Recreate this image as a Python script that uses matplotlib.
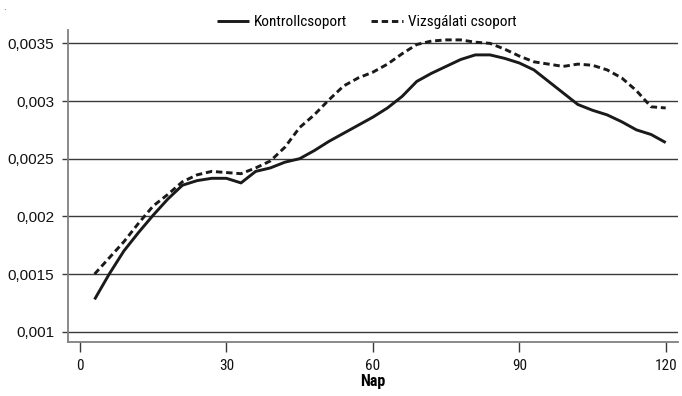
import matplotlib
matplotlib.use("Agg")
import matplotlib.pyplot as plt
from matplotlib import font_manager as fm
from matplotlib.ticker import FuncFormatter

days = [3, 6, 9, 12, 15, 18, 21, 24, 27, 30, 33, 36, 39, 42, 45, 48, 51, 54, 57, 60,
        63, 66, 69, 72, 75, 78, 81, 84, 87, 90, 93, 96, 99, 102, 105, 108, 111, 114, 117, 120]
kontroll = [0.00128, 0.00150, 0.00170, 0.00186, 0.00201, 0.00215, 0.00227, 0.00231, 0.00233, 0.00233,
            0.00229, 0.00239, 0.00242, 0.00247, 0.00250, 0.00257, 0.00265, 0.00272, 0.00279, 0.00286,
            0.00294, 0.00304, 0.00317, 0.00324, 0.00330, 0.00336, 0.00340, 0.00340, 0.00337, 0.00333,
            0.00327, 0.00317, 0.00307, 0.00297, 0.00292, 0.00288, 0.00282, 0.00275, 0.00271, 0.00264]
vizsgalati = [0.00150, 0.00164, 0.00178, 0.00194, 0.00209, 0.00219, 0.00230, 0.00236, 0.00239, 0.00238,
              0.00237, 0.00242, 0.00248, 0.00260, 0.00277, 0.00288, 0.00301, 0.00313, 0.00320, 0.00325,
              0.00332, 0.00341, 0.00349, 0.00352, 0.00353, 0.00353, 0.00351, 0.00350, 0.00345, 0.00339,
              0.00334, 0.00332, 0.00330, 0.00332, 0.00331, 0.00327, 0.00320, 0.00309, 0.00295, 0.00294]
series_labels = ["Kontrollcsoport", "Vizsgálati csoport"]
x_label = "Nap"
x_ticks = [0, 30, 60, 90, 120]
y_ticks = [0.001, 0.0015, 0.002, 0.0025, 0.003, 0.0035]

available = {f.name for f in fm.fontManager.ttflist}
narrow = "DejaVu Sans"
for cand in ["Roboto Condensed", "Liberation Sans Narrow", "Open Sans Condensed", "DejaVu Sans Condensed"]:
    if cand in available:
        narrow = cand
        break
regular = "Liberation Sans" if "Liberation Sans" in available else "DejaVu Sans"

fig = plt.figure(figsize=(6.82, 3.96), dpi=100)
ax = fig.add_axes([0.0993, 0.137, 0.8947, 0.787])

ax.plot(days, kontroll, color="#1a1a1a", lw=2.1, label=series_labels[0], solid_capstyle="butt")
ax.plot(days, vizsgalati, color="#1a1a1a", lw=2.1, linestyle=(0, (2.2, 1.3)), label=series_labels[1])

ax.set_xlim(-2.5, 122.5)
ax.set_ylim(0.000913, 0.003615)
ax.set_xticks(x_ticks)
ax.set_yticks(y_ticks)

def yfmt(v, pos):
    s = ("%.4f" % v).rstrip("0")
    return s.replace(".", ",")
ax.yaxis.set_major_formatter(FuncFormatter(yfmt))

ax.grid(axis="y", color="#3a3a3a", lw=1.0)
ax.set_axisbelow(True)
for s in ["top", "right"]:
    ax.spines[s].set_visible(False)
for s in ["left", "bottom"]:
    ax.spines[s].set_color("#808080")
    ax.spines[s].set_linewidth(1.3)

ax.tick_params(axis="y", length=4.3, width=1.0, color="#3a3a3a", pad=5.3, labelsize=11, labelcolor="#111111")
ax.tick_params(axis="x", length=7.2, width=1.0, color="#3a3a3a", pad=5, labelsize=11, labelcolor="#111111")
for lab in ax.get_yticklabels():
    lab.set_fontfamily(regular)
for lab in ax.get_xticklabels():
    lab.set_fontfamily(narrow)

ax.set_xlabel(x_label, fontsize=11.5, fontweight="bold", family=narrow, labelpad=1)

leg = ax.legend(loc="lower center", bbox_to_anchor=(0.49, 0.993), ncol=2, frameon=False,
                prop={"family": narrow, "size": 11}, handlelength=2.1, columnspacing=1.6,
                handletextpad=0.3, borderaxespad=0.0, borderpad=0.2)

fig.text(4 / 682, 1 - 7 / 396, ".", fontsize=6, color="#333333", ha="center", va="center")

fig.savefig("out.png", dpi=100)
